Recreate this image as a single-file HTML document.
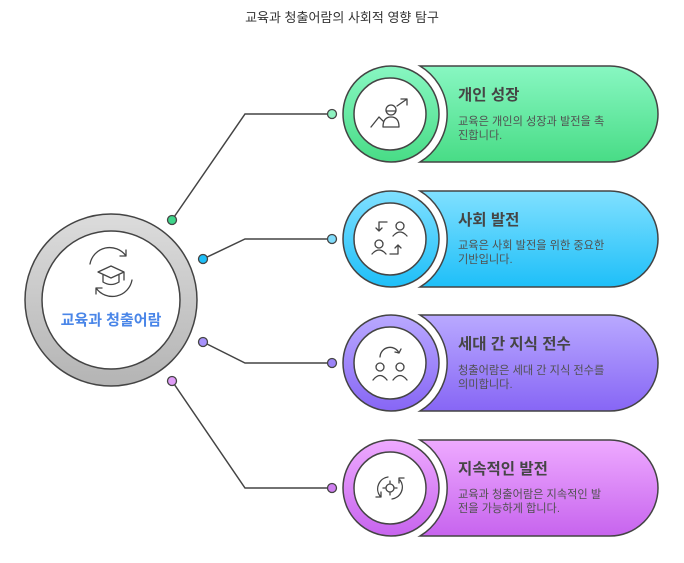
<!DOCTYPE html>
<html><head><meta charset="utf-8"><style>
body{margin:0;background:#fff;}
svg{display:block;font-family:"Liberation Sans","Noto Sans CJK KR",sans-serif;}
.t{font-size:15.5px;font-weight:bold;fill:#454545;}
.d{font-size:11.2px;fill:#505050;}
.ic{fill:none;stroke:#444;stroke-width:1.3;stroke-linecap:round;stroke-linejoin:round;}
</style></head><body>
<svg width="684" height="563" viewBox="0 0 684 563">
<defs>
<linearGradient id="gg" x1="0" y1="0" x2="0" y2="1"><stop offset="0" stop-color="#88f7c2"/><stop offset="1" stop-color="#48dc86"/></linearGradient>
<linearGradient id="gb" x1="0" y1="0" x2="0" y2="1"><stop offset="0" stop-color="#80e0ff"/><stop offset="1" stop-color="#1ebff8"/></linearGradient>
<linearGradient id="gp" x1="0" y1="0" x2="0" y2="1"><stop offset="0" stop-color="#b9a9ff"/><stop offset="1" stop-color="#8766f5"/></linearGradient>
<linearGradient id="gk" x1="0" y1="0" x2="0" y2="1"><stop offset="0" stop-color="#eeaaff"/><stop offset="1" stop-color="#c764ee"/></linearGradient>
<linearGradient id="gc" x1="0" y1="0" x2="0" y2="1"><stop offset="0" stop-color="#dcdcdc"/><stop offset="1" stop-color="#b4b4b4"/></linearGradient>
</defs>
<text x="342" y="22" text-anchor="middle" style="font-size:13px;fill:#333">교육과 청출어람의 사회적 영향 탐구</text>

<g stroke="#444" stroke-width="1.5" fill="none">
<polyline points="172,220 245,114 332,114"/>
<polyline points="203,259 245,239 332,239"/>
<polyline points="203,342 245,363 332,363"/>
<polyline points="172,381 245,488 332,488"/>
</g>
<g stroke="#444" stroke-width="1.3">
<circle cx="172" cy="220" r="4.5" fill="#3ed58a"/>
<circle cx="203" cy="259" r="4.5" fill="#1ebff8"/>
<circle cx="203" cy="342" r="4.5" fill="#a792fb"/>
<circle cx="172" cy="381" r="4.5" fill="#df9cf7"/>
<circle cx="332" cy="114" r="4.5" fill="#8ef2c0"/>
<circle cx="332" cy="239" r="4.5" fill="#80dcfb"/>
<circle cx="332" cy="363" r="4.5" fill="#9b83f8"/>
<circle cx="332" cy="488" r="4.5" fill="#cf7ff0"/>
</g>

<circle cx="111" cy="300" r="86" fill="url(#gc)" stroke="#444" stroke-width="1.5"/>
<circle cx="111" cy="300" r="69" fill="#fff" stroke="#444" stroke-width="1.5"/>
<g class="ic">
<path d="M90 264 a20 20 0 0 1 36 -8 M126 256 l0 -6 M126 256 l-6 0"/>
<path d="M132 280 a20 20 0 0 1 -36 8 M96 288 l0 6 M96 288 l6 0"/>
<path d="M98 272 l13 -6 l13 6 l-13 6 z M103 275 v7 q8 5 16 0 v-7 M124 272 v8"/>
</g>
<text x="111" y="325" text-anchor="middle" style="font-size:15px;font-weight:bold;fill:#4a86e8">교육과 청출어람</text>

<g>
<path d="M420 66 H610 A48 48 0 0 1 610 162 H420 A56 56 0 0 0 420 66 Z" fill="url(#gg)" stroke="#444" stroke-width="1.5"/>
<circle cx="391" cy="114" r="48" fill="url(#gg)" stroke="#444" stroke-width="1.5"/>
<circle cx="390" cy="114" r="36" fill="#fff" stroke="#444" stroke-width="1.5"/>
<g class="ic"><path d="M371 127 l8 -10 l4 4"/><circle cx="391" cy="110" r="5"/><path d="M383 127 q0 -10 8 -10 q8 0 8 10 z M386 111 h10 M397 106 l10 -7 M401 99 h6 v6"/></g>
<text x="458" y="100" class="t">개인 성장</text>
<text x="458" y="125" class="d">교육은 개인의 성장과 발전을 촉</text>
<text x="458" y="139" class="d">진합니다.</text>
</g>

<g>
<path d="M420 191 H610 A48 48 0 0 1 610 287 H420 A56 56 0 0 0 420 191 Z" fill="url(#gb)" stroke="#444" stroke-width="1.5"/>
<circle cx="391" cy="239" r="48" fill="url(#gb)" stroke="#444" stroke-width="1.5"/>
<circle cx="390" cy="239" r="36" fill="#fff" stroke="#444" stroke-width="1.5"/>
<g class="ic"><path d="M387 222 h-8 v9 M376 228 l3 3 l3 -3"/><circle cx="400" cy="226" r="4"/><path d="M393 236 q7 -8 14 0"/><circle cx="379" cy="244" r="4"/><path d="M372 254 q7 -8 14 0"/><path d="M390 254 h8 v-9 M395 248 l3 -3 l3 3"/></g>
<text x="458" y="225" class="t">사회 발전</text>
<text x="458" y="249" class="d">교육은 사회 발전을 위한 중요한</text>
<text x="458" y="263" class="d">기반입니다.</text>
</g>

<g>
<path d="M420 315 H610 A48 48 0 0 1 610 411 H420 A56 56 0 0 0 420 315 Z" fill="url(#gp)" stroke="#444" stroke-width="1.5"/>
<circle cx="391" cy="363" r="48" fill="url(#gp)" stroke="#444" stroke-width="1.5"/>
<circle cx="390" cy="363" r="36" fill="#fff" stroke="#444" stroke-width="1.5"/>
<g class="ic"><path d="M380 357 a10 10 0 0 1 19 -4 M399 353 l-4 -1 M399 353 l2 -4"/><circle cx="380" cy="367" r="4"/><path d="M373 380 q7 -9 14 0"/><circle cx="400" cy="367" r="4"/><path d="M393 380 q7 -9 14 0"/></g>
<text x="458" y="349" class="t">세대 간 지식 전수</text>
<text x="458" y="374" class="d">청출어람은 세대 간 지식 전수를</text>
<text x="458" y="388" class="d">의미합니다.</text>
</g>

<g>
<path d="M420 440 H610 A48 48 0 0 1 610 536 H420 A56 56 0 0 0 420 440 Z" fill="url(#gk)" stroke="#444" stroke-width="1.5"/>
<circle cx="391" cy="488" r="48" fill="url(#gk)" stroke="#444" stroke-width="1.5"/>
<circle cx="390" cy="488" r="36" fill="#fff" stroke="#444" stroke-width="1.5"/>
<g class="ic"><path d="M380 496 a12 12 0 0 1 8 -19 M376 497 h5 v-5"/><path d="M400 480 a12 12 0 0 1 -8 19 M404 478 h-5 v5"/><circle cx="390" cy="488" r="4"/><path d="M390 481 v2 M390 493 v2 M383 488 h2 M395 488 h2"/></g>
<text x="458" y="474" class="t">지속적인 발전</text>
<text x="458" y="498" class="d">교육과 청출어람은 지속적인 발</text>
<text x="458" y="512" class="d">전을 가능하게 합니다.</text>
</g>
</svg>
</body></html>
